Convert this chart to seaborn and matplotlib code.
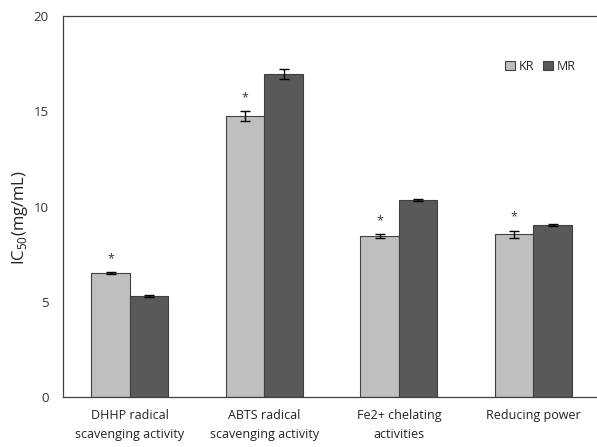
import numpy as np
import pandas as pd
import matplotlib
matplotlib.use("Agg")
import matplotlib.pyplot as plt
import seaborn as sns

# data
categories = ["DHHP radical\nscavenging activity", "ABTS radical\nscavenging activity",
              "Fe2+ chelating\nactivities", "Reducing power"]
kr_values = [6.52, 14.73, 8.45, 8.54]
mr_values = [5.30, 16.96, 10.34, 9.05]
kr_err = [0.04, 0.26, 0.12, 0.19]
mr_err = [0.04, 0.26, 0.04, 0.05]
groups = ["KR", "MR"]
colors = ["#bfbfbf", "#595959"]

df = pd.DataFrame({
    "category": categories * 2,
    "group": ["KR"] * 4 + ["MR"] * 4,
    "value": kr_values + mr_values,
})

sns.set_style("white")
plt.rcParams['font.family'] = ['Open Sans', 'DejaVu Sans']

fig = plt.figure(figsize=(5.97, 4.47), dpi=100)
ax = fig.add_axes([0.105, 0.112, 0.901, 0.852])

sns.barplot(data=df, x="category", y="value", hue="group", order=categories,
            hue_order=groups, palette=colors, width=0.573, errorbar=None,
            edgecolor="#404040", linewidth=0.8, ax=ax)

# error bars and asterisks at bar centres
errs = kr_err + mr_err
for bar, e in zip(ax.patches[:8], errs):
    xc = bar.get_x() + bar.get_width() / 2
    h = bar.get_height()
    ax.errorbar(xc, h, yerr=e, fmt="none", ecolor="black", elinewidth=1,
                capsize=3.5, capthick=1)
for bar, e in zip(ax.patches[:4], kr_err):
    xc = bar.get_x() + bar.get_width() / 2
    ax.annotate("*", (xc, bar.get_height() + e), xytext=(0, 5),
                textcoords="offset points", ha="center", va="bottom",
                fontsize=9, color="#333333")

ax.set_ylim(0, 20)
ax.set_xlim(-0.5, 3.5)
ax.set_yticks([0, 5, 10, 15, 20])
ax.set_ylabel("IC$_{\\mathregular{50}}$(mg/mL)", fontsize=12, color="#222222")
ax.yaxis.set_label_coords(-0.06, 0.47)
ax.set_xlabel("")
ax.tick_params(axis="y", labelsize=9.5, length=2, width=0.6, colors="#333333", pad=8)
ax.tick_params(axis="x", labelsize=9, length=0, colors="#222222", pad=9)
for lab in ax.get_xticklabels():
    lab.set_linespacing(1.55)
for s in ["left", "top", "bottom"]:
    ax.spines[s].set_color("#404040")
    ax.spines[s].set_linewidth(0.9)
ax.spines["right"].set_visible(False)

ax.legend(ncol=2, frameon=False, fontsize=9, loc="upper right",
          bbox_to_anchor=(0.975, 0.915), handlelength=0.8, handleheight=0.8,
          handletextpad=0.3, columnspacing=0.7)

fig.savefig("out.png", dpi=100)
